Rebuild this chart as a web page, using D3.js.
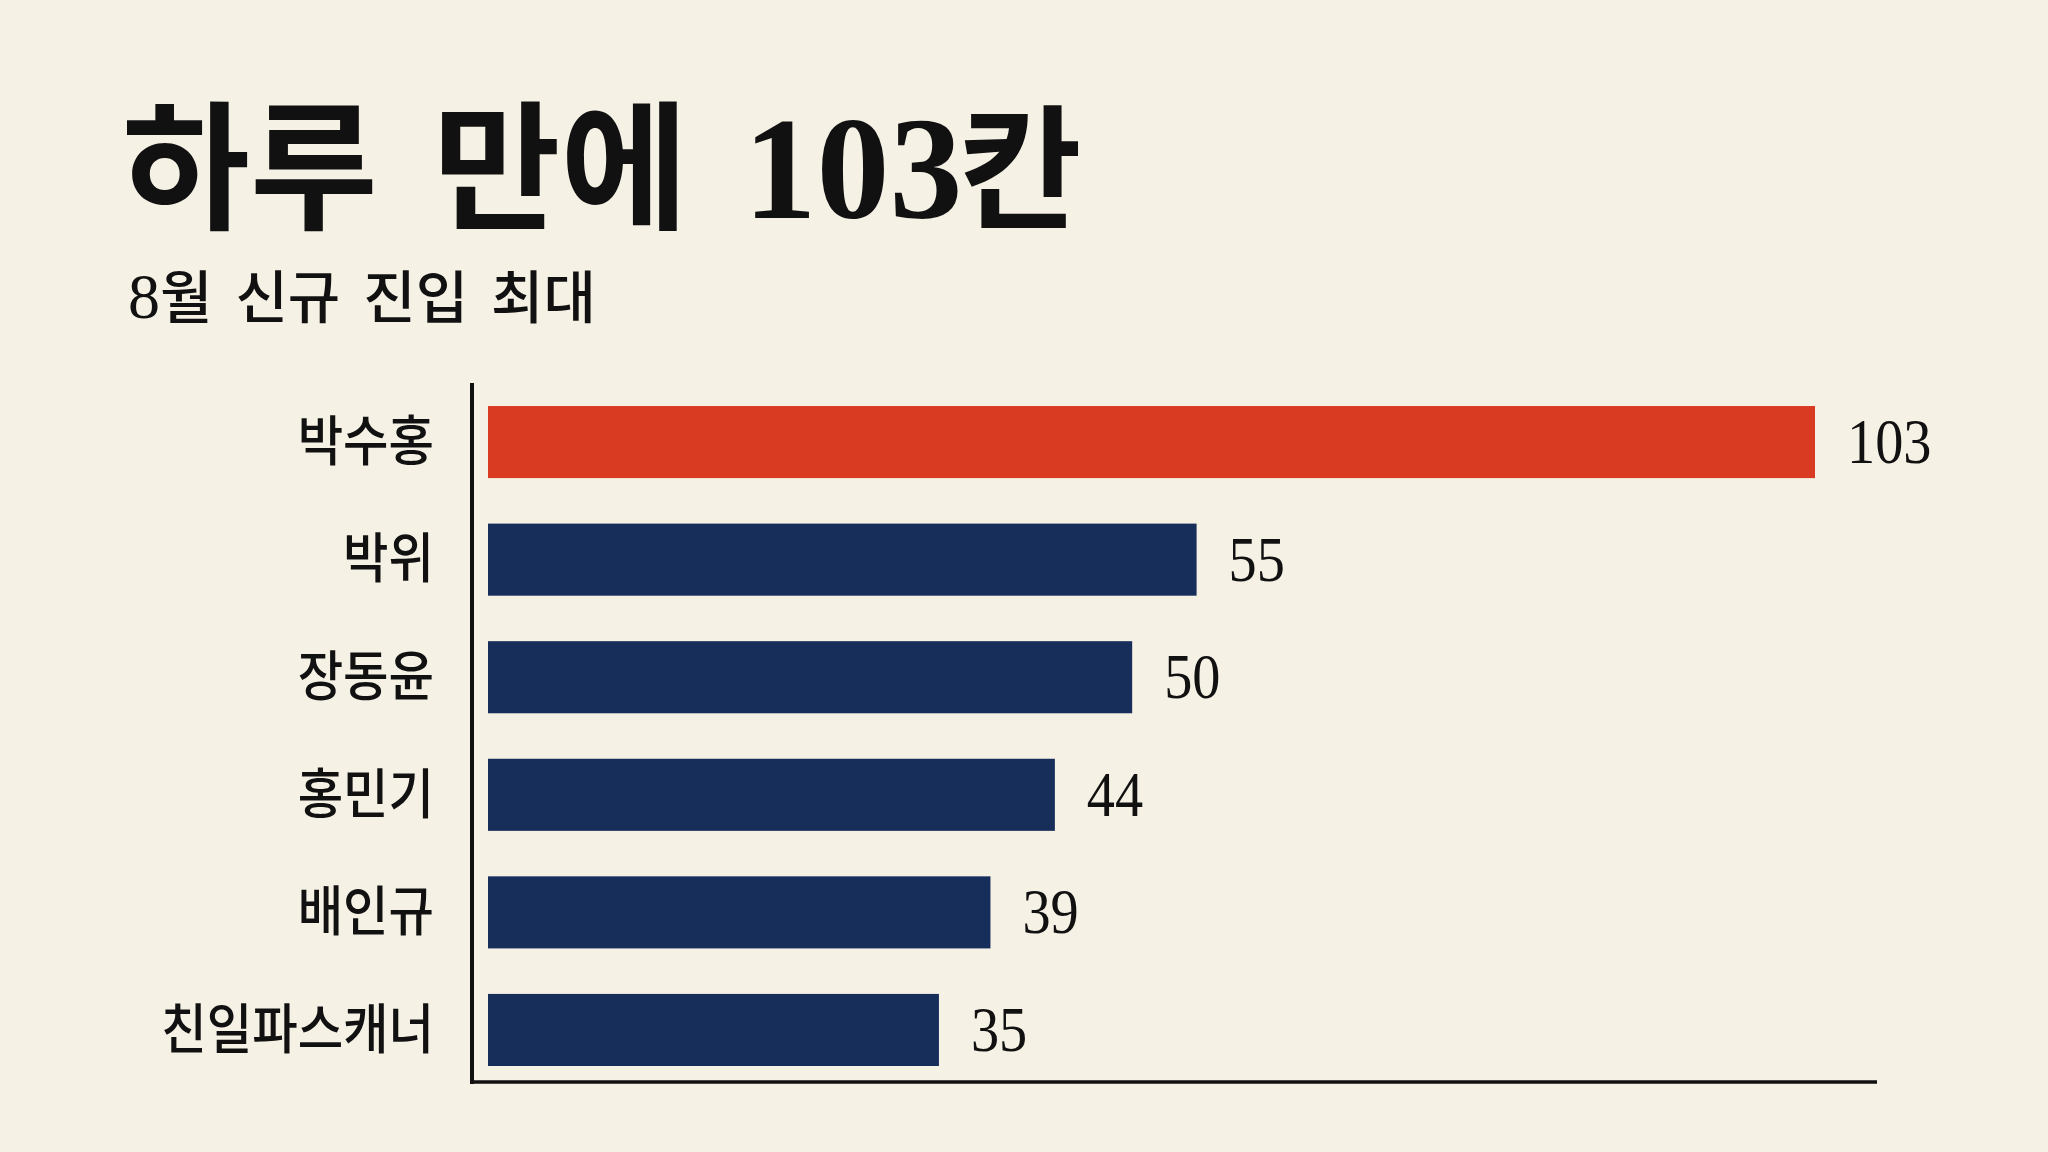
<!DOCTYPE html>
<html lang="ko">
<head>
<meta charset="utf-8">
<script src="https://cdn.jsdelivr.net/npm/d3@7"></script>
<style>
  html, body { margin: 0; padding: 0; background: #f6f1e5; }
  svg { display: block; }
</style>
</head>
<body>
<svg id="chart" width="2048" height="1152"></svg>
<script>
// ---- data ----
const categories = ["박수홍", "박위", "장동윤", "홍민기", "배인규", "친일파스캐너"];
const values = [103, 55, 50, 44, 39, 35];
const highlight = ["박수홍"];
const titleParts = ["하루 만에 ", "103", "칸"];
const subtitleParts = ["8", "월 신규 진입 최대"];

// ---- styles ----
const BG = "#f6f1e5";
const RED = "#d93a22";
const NAVY = "#172d5a";
const INK = "#111111";
const KO = "'Noto Sans CJK KR', 'Noto Sans', sans-serif";
const SERIF = "'Liberation Serif', 'DejaVu Serif', serif";

const svg = d3.select("#chart");
svg.append("rect").attr("width", 2048).attr("height", 1152).attr("fill", BG);

// ---- title ----
const title = svg.append("text")
  .attr("x", 122).attr("y", 218)
  .attr("fill", INK)
  .style("word-spacing", "16px");
title.append("tspan").text(titleParts[0])
  .attr("font-family", KO).attr("font-weight", 700).attr("font-size", 139);
title.append("tspan").text(titleParts[1])
  .attr("font-family", SERIF).attr("font-weight", 700).attr("font-size", 146);
title.append("tspan").text(titleParts[2])
  .attr("font-family", KO).attr("font-weight", 700).attr("font-size", 134)
  .attr("dx", -4);

// ---- subtitle ----
const sub = svg.append("text")
  .attr("x", 128).attr("y", 318)
  .attr("fill", INK)
  .style("word-spacing", "7px");
sub.append("tspan").text(subtitleParts[0])
  .attr("font-family", SERIF).attr("font-size", 64);
sub.append("tspan").text(subtitleParts[1])
  .attr("font-family", KO).attr("font-weight", 500).attr("font-size", 57);

// ---- scales ----
const y = d3.scaleBand()
  .domain(categories)
  .range([383, 1082])
  .paddingInner(0.387)
  .paddingOuter(0.166)
  .align(0.59);

const x = d3.scaleLinear()
  .domain([0, 103])
  .range([488, 1815]);

const data = categories.map((c, i) => ({ name: c, value: values[i] }));

// ---- bars ----
svg.append("g").selectAll("rect")
  .data(data)
  .join("rect")
  .attr("x", x(0))
  .attr("y", d => y(d.name))
  .attr("width", d => x(d.value) - x(0))
  .attr("height", y.bandwidth())
  .attr("fill", d => highlight.includes(d.name) ? RED : NAVY);

// ---- axis lines ----
const axisX = x(0) - 16;
svg.append("line")
  .attr("x1", axisX).attr("x2", axisX)
  .attr("y1", y.range()[0]).attr("y2", y.range()[1] + 2)
  .attr("stroke", INK).attr("stroke-width", 4);
svg.append("line")
  .attr("x1", axisX - 2).attr("x2", 1877)
  .attr("y1", y.range()[1]).attr("y2", y.range()[1])
  .attr("stroke", INK).attr("stroke-width", 3.5);

// ---- category labels ----
const catFs = 52;
svg.append("g").selectAll("text")
  .data(data)
  .join("text")
  .attr("transform", d => `translate(434,${y(d.name) + y.bandwidth() / 2 + catFs * 0.36}) scale(0.95,1.04)`)
  .attr("text-anchor", "end")
  .attr("font-family", KO)
  .attr("font-weight", 500)
  .attr("font-size", catFs)
  .attr("fill", INK)
  .text(d => d.name);

// ---- value labels ----
const valFs = 64;
svg.append("g").selectAll("text")
  .data(data)
  .join("text")
  .attr("transform", d => `translate(${x(d.value) + 32},${y(d.name) + y.bandwidth() / 2 + valFs * 0.33}) scale(0.88,1)`)
  .attr("font-family", SERIF)
  .attr("font-size", valFs)
  .attr("fill", INK)
  .text(d => d.value);
</script>
</body>
</html>
